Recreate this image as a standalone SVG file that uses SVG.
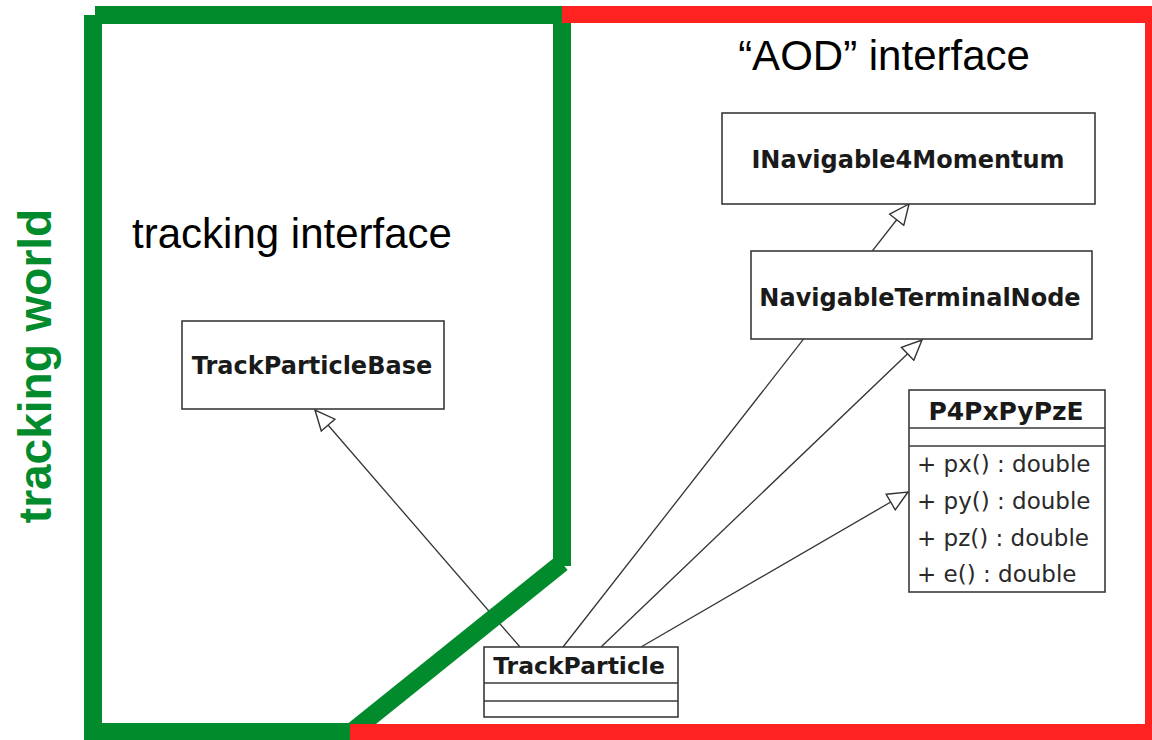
<svg xmlns="http://www.w3.org/2000/svg" width="1152" height="740" viewBox="0 0 1152 740">
<defs>
<style>
.box{fill:#fff;stroke:#3a3a3a;stroke-width:1.6}
.sep{stroke:#3a3a3a;stroke-width:1.6}
.cls{font-family:"DejaVu Sans",sans-serif;font-weight:bold;font-size:24px;fill:#1a1a1a;text-anchor:middle}
.op{font-family:"DejaVu Sans",sans-serif;font-size:23px;fill:#2a2a2a}
.title{font-family:"Liberation Sans",Arial,sans-serif;font-size:42px;fill:#000}
.conn{stroke:#333;stroke-width:1.3;fill:none;marker-end:url(#gen)}
.green{fill:#028B2C}
.red{fill:#FE2320}
</style>
<marker id="gen" viewBox="0 0 22 20" refX="21" refY="10" markerWidth="22" markerHeight="20" markerUnits="userSpaceOnUse" orient="auto">
<path d="M1,1 L21,10 L1,19 Z" fill="#fff" stroke="#333" stroke-width="1.4"/>
</marker>
</defs>
<rect width="1152" height="740" fill="#fff"/>

<g id="connectors">
<line class="conn" x1="520" y1="647" x2="315" y2="410"/>
<line class="conn" x1="563" y1="647" x2="909" y2="204"/>
<line class="conn" x1="601" y1="647" x2="922" y2="340"/>
<line class="conn" x1="641" y1="647" x2="908" y2="492"/>
</g>

<g id="tracking-world-border">
<rect class="green" x="84" y="15" width="18" height="725"/>
<rect class="green" x="95" y="6" width="476" height="18"/>
<rect class="green" x="553" y="6" width="18" height="560"/>
<rect class="green" x="84" y="723" width="270" height="17"/>
<line x1="562" y1="563" x2="338" y2="743" stroke="#028B2C" stroke-width="18"/>
</g>

<g id="aod-border">
<rect class="red" x="562" y="6" width="590" height="17"/>
<rect class="red" x="1145" y="6" width="15" height="734"/>
<rect class="red" x="350" y="724" width="802" height="16"/>
</g>

<text class="title" x="884" y="70" text-anchor="middle">“AOD” interface</text>
<text class="title" x="292" y="248" text-anchor="middle">tracking interface</text>
<text transform="translate(51,366) rotate(-90)" text-anchor="middle" font-family="Liberation Sans, Arial, sans-serif" font-weight="bold" font-size="46" fill="#028B2C">tracking world</text>

<g id="TrackParticleBase">
<rect class="box" x="182" y="321" width="262" height="88"/>
<text class="cls" x="312" y="374">TrackParticleBase</text>
</g>

<g id="INavigable4Momentum">
<rect class="box" x="722" y="113" width="373" height="91"/>
<text class="cls" x="908" y="168">INavigable4Momentum</text>
</g>

<g id="NavigableTerminalNode">
<rect class="box" x="751" y="251" width="341" height="88"/>
<text class="cls" x="920" y="306">NavigableTerminalNode</text>
</g>

<g id="P4PxPyPzE">
<rect class="box" x="909" y="390" width="196" height="202"/>
<line class="sep" x1="909" y1="428" x2="1105" y2="428"/>
<line class="sep" x1="909" y1="446" x2="1105" y2="446"/>
<text class="cls" x="1006" y="420" style="font-size:25px">P4PxPyPzE</text>
<text class="op" x="917" y="472">+ px() : double</text>
<text class="op" x="917" y="509">+ py() : double</text>
<text class="op" x="917" y="546">+ pz() : double</text>
<text class="op" x="917" y="582">+ e() : double</text>
</g>

<g id="TrackParticle">
<rect class="box" x="484" y="647" width="194" height="70"/>
<line class="sep" x1="484" y1="683" x2="678" y2="683"/>
<line class="sep" x1="484" y1="701" x2="678" y2="701"/>
<text class="cls" x="579" y="674" style="font-size:23.5px">TrackParticle</text>
</g>
</svg>
